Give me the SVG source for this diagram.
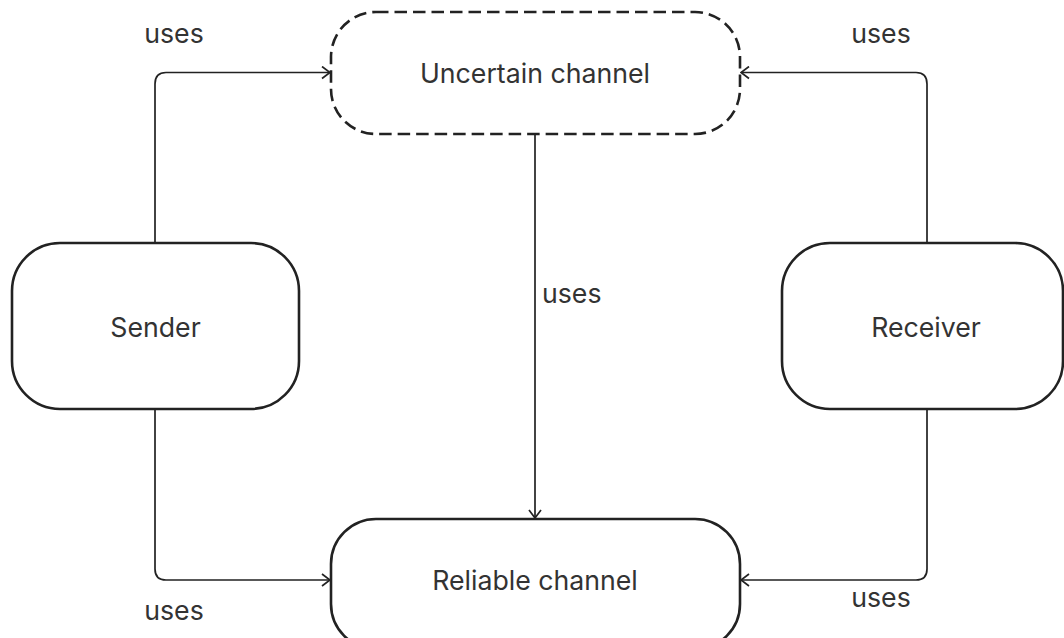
<svg xmlns="http://www.w3.org/2000/svg" width="1064" height="638" viewBox="0 0 1064 638">
  <defs>
    <marker id="arrow" viewBox="0 0 12 14" refX="11" refY="7" markerWidth="12" markerHeight="14" markerUnits="userSpaceOnUse" orient="auto">
      <path d="M3,1 L11,7 L3,13" fill="none" stroke="#222" stroke-width="1.7"/>
    </marker>
    <style>
      .node { fill: #fff; stroke: #222; stroke-width: 2.6; }
      .dashed { stroke-dasharray: 12.5 6; }
      .edge { fill: none; stroke: #222; stroke-width: 1.7; marker-end: url(#arrow); }
      text { font-family: Inter, "Noto Sans", "Liberation Sans", sans-serif; fill: #333; font-size: 26.7px; }
      .label { text-anchor: middle; }
    </style>
  </defs>

  <g id="connectors">
    <path class="edge" d="M155,243 V84 Q155,72.5 166,72.5 H330"/>
    <path class="edge" d="M927,243 V84 Q927,72.5 916,72.5 H741"/>
    <path class="edge" d="M155,409 V569 Q155,580 166,580 H330"/>
    <path class="edge" d="M927,409 V569 Q927,580 916,580 H741"/>
    <path class="edge" d="M535,134 V518"/>
    <text x="174" y="43" class="label">uses</text>
    <text x="881" y="43" class="label">uses</text>
    <text x="542" y="303">uses</text>
    <text x="174" y="620" class="label">uses</text>
    <text x="881" y="607" class="label">uses</text>
  </g>

  <g id="uncertain-channel">
    <rect class="node dashed" x="331" y="12" width="409" height="122" rx="45"/>
    <text x="535" y="83" class="label">Uncertain channel</text>
  </g>

  <g id="sender">
    <rect class="node" x="12" y="243" width="287" height="166" rx="48"/>
    <text x="155.5" y="337" class="label">Sender</text>
  </g>

  <g id="receiver">
    <rect class="node" x="782" y="243" width="281" height="166" rx="48"/>
    <text x="926" y="337" class="label">Receiver</text>
  </g>

  <g id="reliable-channel">
    <rect class="node" x="331" y="519" width="409" height="130" rx="45"/>
    <text x="535" y="590" class="label">Reliable channel</text>
  </g>
</svg>
